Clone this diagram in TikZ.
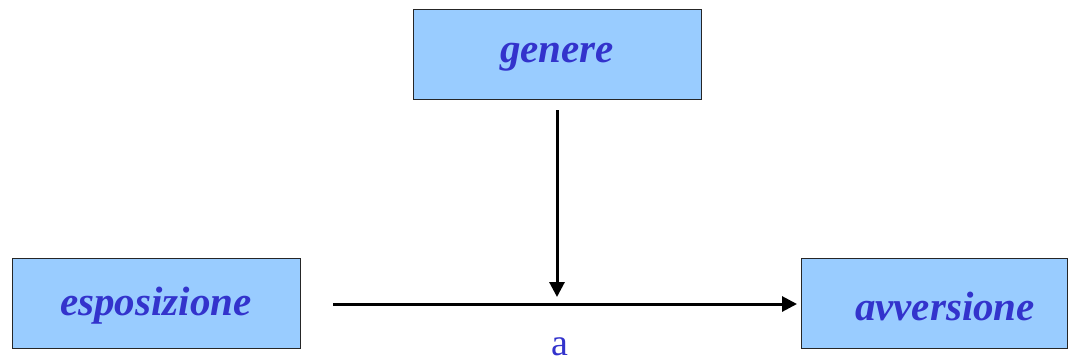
\documentclass[tikz,border=0pt]{standalone}
\usepackage{fontspec}
\setmainfont{Liberation Serif}
\usetikzlibrary{arrows.meta}
\definecolor{boxfill}{HTML}{99CCFF}
\definecolor{boxtext}{HTML}{3333CC}
\tikzset{
  varbox/.style={draw=black!85, line width=0.8pt, fill=boxfill, inner sep=0pt},
  varlabel/.style={text=boxtext, font=\fontsize{41}{48}\selectfont\bfseries\itshape},
  link/.style={line width=3pt, -{Triangle[length=15pt,width=15pt]}},
}
\begin{document}
\begin{tikzpicture}[x=1pt,y=-1pt]
  \useasboundingbox (0,0) rectangle (1072,360);
  % variable boxes
  \draw[varbox] (413,9) rectangle (701,99);
  \node[varlabel] (gen) at (557,57) {genere};
  \coordinate (genb) at (557,110);
  \draw[varbox] (12,258) rectangle (300,348);
  \node[varlabel] (esp) at (156,306) {esposizione};
  \coordinate (espr) at (333,304);
  \draw[varbox] (801,258) rectangle (1067,348);
  \node[varlabel] (avv) at (945,306) {avversione};
  \coordinate (avvl) at (797,304);
  \coordinate (mid) at (557,297);
  % connectors
  \draw[link] (espr) -- (avvl);
  \draw[link] (genb) -- (mid);
  \node[text=boxtext, font=\fontsize{38}{44}\selectfont, anchor=base, inner sep=0pt] (a) at (560,355) {a};
\end{tikzpicture}
\end{document}
